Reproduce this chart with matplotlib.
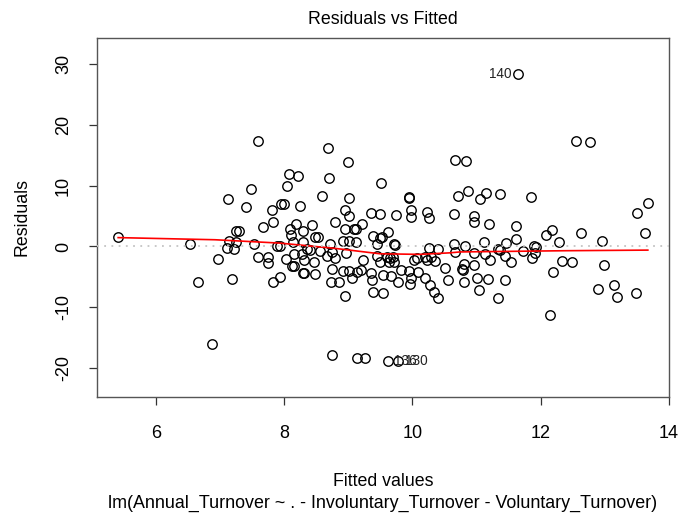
import matplotlib
matplotlib.use("Agg")
import matplotlib.pyplot as plt
import numpy as np

# ---- data (fitted value, residual) ----
fitted = [
    5.41, 6.53, 6.97, 6.66, 6.88, 7.59, 8.69, 8.07, 8.22, 8.70,
    8.05, 7.48, 7.13, 8.59, 7.41, 7.95, 8.00, 8.25, 7.81, 7.83,
    7.67, 8.19, 8.44, 8.79, 7.24, 7.30, 8.09, 8.29, 8.10, 8.48,
    8.53, 7.14, 7.25, 7.53, 8.13, 8.29, 8.71, 7.11, 7.21, 7.89,
    7.93, 8.35, 8.56, 8.40, 7.59, 7.75, 7.75, 8.02, 8.15, 8.28,
    8.31, 8.47, 8.67, 8.74, 8.12, 8.15, 8.30, 8.31, 8.48, 8.74,
    7.19, 7.83, 7.93, 8.73, 8.74, 9.00, 9.51, 9.95, 9.95, 9.01,
    8.94, 9.01, 9.35, 9.49, 9.75, 9.97, 9.97, 10.23, 10.26, 9.21,
    8.94, 9.08, 9.12, 9.62, 9.38, 9.49, 9.52, 8.91, 9.01, 9.12,
    9.71, 9.72, 10.25, 10.39, 9.45, 8.79, 8.96, 9.23, 9.44, 9.49,
    9.61, 9.65, 9.70, 9.64, 9.71, 9.82, 10.03, 10.07, 10.20, 10.23,
    10.29, 10.35, 8.91, 9.01, 9.13, 9.19, 9.35, 9.37, 9.54, 9.67,
    9.78, 9.95, 9.98, 9.96, 10.09, 10.20, 10.27, 10.33, 10.39, 10.51,
    10.55, 8.86, 9.05, 8.95, 9.38, 9.54, 9.14, 9.26, 9.62, 9.78,
    10.66, 10.84, 10.71, 10.86, 11.06, 11.15, 11.37, 11.85, 10.65, 10.96,
    10.96, 11.20, 11.62, 11.61, 12.08, 12.18, 12.28, 10.64, 10.82, 11.11,
    11.46, 10.66, 10.96, 11.13, 11.34, 11.37, 11.44, 11.73, 11.90, 11.93,
    11.91, 11.86, 10.80, 10.77, 10.78, 10.96, 11.21, 11.53, 10.81, 11.01,
    11.18, 11.45, 11.03, 11.34, 12.19, 12.33, 12.14, 12.55, 12.77, 13.67,
    13.50, 13.63, 12.63, 12.96, 12.48, 12.99, 12.90, 13.14, 13.19, 13.48,
    11.64,
]
residuals = [
    1.48, 0.33, -2.13, -5.81, -16.04, 17.34, 16.19, 11.82, 11.59, 11.26,
    9.85, 9.41, 7.77, 8.31, 6.50, 6.95, 6.90, 6.67, 6.01, 4.04,
    3.17, 3.71, 3.50, 4.04, 2.56, 2.56, 2.84, 2.56, 1.86, 1.53,
    1.53, 0.87, 0.76, 0.38, 0.76, 0.66, 0.33, -0.33, -0.44, 0.00,
    0.00, -0.44, -0.72, -0.56, -1.71, -1.81, -2.79, -2.09, -1.22, -1.31,
    -2.25, -2.53, -1.59, -0.89, -3.19, -3.28, -4.33, -4.43, -4.55, -3.78,
    -5.37, -5.91, -5.04, -5.81, -17.85, 13.89, 10.34, 8.05, 7.88, 7.88,
    6.01, 5.02, 5.47, 5.35, 5.14, 6.01, 4.86, 5.68, 4.60, 3.66,
    2.89, 2.79, 2.79, 2.30, 1.64, 1.41, 1.53, 0.92, 0.87, 0.76,
    0.43, 0.21, -0.23, -0.44, 0.33, -1.87, -1.15, -2.25, -1.54, -2.53,
    -1.71, -1.87, -1.71, -2.63, -2.63, -3.89, -2.20, -1.97, -1.71, -2.25,
    -1.71, -2.41, -4.01, -4.06, -4.17, -3.94, -4.43, -5.48, -4.71, -4.83,
    -5.81, -4.06, -5.16, -6.08, -4.17, -5.25, -6.35, -7.45, -8.44, -3.61,
    -5.58, -5.91, -5.25, -8.11, -7.55, -7.67, -18.23, -18.34, -18.72, -18.83,
    14.22, 14.06, 8.21, 9.03, 7.77, 8.75, 8.54, 8.05, 5.25, 5.02,
    3.94, 3.66, 3.28, 1.25, 1.86, 2.73, 0.66, 0.43, 0.10, 0.76,
    0.54, -0.89, -1.10, -1.22, -0.44, -0.66, -1.54, -0.82, 0.00, -0.11,
    -1.10, -1.97, -2.86, -3.73, -3.94, -3.07, -2.30, -2.63, -5.91, -5.16,
    -5.37, -5.58, -7.13, -8.44, -4.27, -2.41, -11.28, 17.34, 17.13, 7.16,
    5.42, 2.23, 2.23, 0.92, -2.58, -3.12, -7.06, -6.31, -8.33, -7.62,
    28.24,
]

# smoother (red line)
smooth_x = [5.41, 6.92, 7.93, 8.78, 9.49, 10.11, 10.58, 10.74, 12.38, 13.67]
smooth_y = [1.45, 1.10, 0.55, -0.30, -1.20, -1.30, -1.05, -0.90, -0.70, -0.60]

# labelled observations: (id, fitted, residual, side)
label_ids = ["140", "136", "130"]
label_x = [11.64, 9.62, 9.78]
label_y = [28.24, -18.72, -18.83]
label_side = ["left", "right", "right"]

x_ticks = [6, 8, 10, 12, 14]
y_ticks = [-20, -10, 0, 10, 20, 30]

title = "Residuals vs Fitted"
x_label = "Fitted values"
y_label = "Residuals"
caption = "lm(Annual_Turnover ~ . - Involuntary_Turnover - Voluntary_Turnover)"

plt.rcParams["font.family"] = ["Liberation Sans", "DejaVu Sans"]

W, H = 679, 515
fig = plt.figure(figsize=(W / 100, H / 100), dpi=100)
L, R, T, B = 97, 669, 38, 397
ax = fig.add_axes([L / W, 1 - B / H, (R - L) / W, (B - T) / H])

ax.plot(fitted, residuals, "o", mfc="none", mec="black", ms=6.8, mew=1.0, zorder=3)
ax.plot(smooth_x, smooth_y, color="red", lw=1.2, zorder=4)
ax.axhline(0, color="#C4C4C4", lw=1.3, ls=(0, (1, 3)), zorder=5)

for t, lx, ly, side in zip(label_ids, label_x, label_y, label_side):
    if side == "left":
        ax.annotate(t, (lx, ly), xytext=(-4.5, 0), textcoords="offset points",
                    ha="right", va="center", fontsize=9.8, color="#222222")
    else:
        ax.annotate(t, (lx, ly), xytext=(4.5, 0), textcoords="offset points",
                    ha="left", va="center", fontsize=9.8, color="#222222")

ax.set_xlim(5.08, 14.0)
ax.set_ylim(-24.7, 34.2)
ax.set_xticks(x_ticks)
ax.set_yticks(y_ticks)
ax.set_xticklabels([str(v) for v in x_ticks], fontsize=13)
ax.set_yticklabels([str(v) for v in y_ticks], fontsize=13, rotation=90, va="center")
ax.tick_params(axis="both", direction="out", length=6, width=0.9, color="#333333")
ax.tick_params(axis="x", pad=14)
ax.tick_params(axis="y", pad=12)
for s in ax.spines.values():
    s.set_color("#555555")
    s.set_linewidth(1.0)

fig.text(383 / W, 1 - 20 / H, title, ha="center", va="center", fontsize=12.8)
fig.text(383 / W, 1 - 482 / H, x_label, ha="center", va="center", fontsize=12.8)
fig.text(383 / W, 1 - 503 / H, caption, ha="center", va="center", fontsize=12.9)
fig.text(22 / W, 1 - 217 / H, y_label, ha="center", va="center", rotation=90, fontsize=12.8)

fig.savefig("out.png", dpi=100)
